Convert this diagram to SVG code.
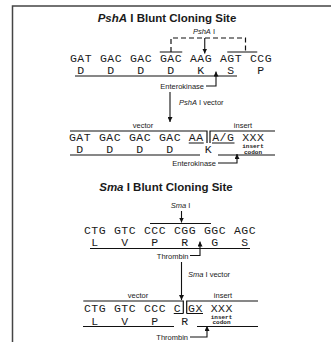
<svg xmlns="http://www.w3.org/2000/svg" width="331" height="342" viewBox="0 0 331 342">
<defs>
<style>
.title{font-family:"Liberation Sans",Arial,sans-serif;font-weight:bold;font-size:11.5px;text-anchor:middle;fill:#1a1a1a}
.seq{font-family:"Liberation Mono","Courier New",monospace;font-size:11.5px;letter-spacing:0.5px;text-anchor:middle;fill:#1a1a1a}
.lbl{font-family:"Liberation Sans",Arial,sans-serif;font-size:7.5px;fill:#1a1a1a}
.mid{text-anchor:middle}
.end{text-anchor:end}
.ins{font-family:"Liberation Mono","Courier New",monospace;font-size:6px;font-weight:bold;text-anchor:middle;fill:#1a1a1a}
.ln{stroke:#111;stroke-width:1.2;fill:none}
.dash{stroke:#111;stroke-width:1.2;fill:none;stroke-dasharray:5 3}
.arr{stroke:#111;stroke-width:1.1;fill:none;marker-end:url(#ah)}
</style>
<marker id="ah" viewBox="0 0 8 8" refX="8" refY="4" markerWidth="5" markerHeight="5" orient="auto" markerUnits="userSpaceOnUse">
<path d="M0,0 L8,4 L0,8 z" fill="#111"/>
</marker>
</defs>
<rect width="331" height="342" fill="#fff"/>
<g id="frame" stroke="#444" stroke-width="1.5" fill="none">
<path d="M12.5,342 V6 H331"/>
</g>

<g id="psha-title">
<text class="title" x="167" y="22"><tspan font-style="italic">PshA</tspan> I Blunt Cloning Site</text>
</g>

<g id="psha-site">
<text class="lbl mid" x="204" y="34" font-size="7"><tspan font-style="italic">PshA</tspan> I</text>
<path class="dash" d="M171,52 V38 H245.5 V52"/>
<path class="ln" d="M159.75,52 H182.25 M227.25,52 H257.25"/>
<text class="seq" y="62"><tspan x="81">GAT</tspan><tspan x="111">GAC</tspan><tspan x="141">GAC</tspan><tspan x="171">GAC</tspan><tspan x="201">AAG</tspan><tspan x="231">AGT</tspan><tspan x="261">CCG</tspan></text>
<text class="seq" y="74"><tspan x="81">D</tspan><tspan x="111">D</tspan><tspan x="141">D</tspan><tspan x="171">D</tspan><tspan x="201">K</tspan><tspan x="231">S</tspan><tspan x="261">P</tspan></text>
<path class="ln" d="M75,76 H237"/>
<text class="lbl end" x="204" y="88.5">Enterokinase</text>
</g>

<g id="psha-vector">
<text class="lbl mid" x="143" y="127.5">vector</text>
<text class="lbl mid" x="243" y="127.5">insert</text>
<path class="ln" d="M70,131 H207 V143 M210,143 V131 H275"/>
<text class="seq" y="140.5"><tspan x="80">GAT</tspan><tspan x="110">GAC</tspan><tspan x="140">GAC</tspan><tspan x="170">GAC</tspan><tspan x="196.25">AA</tspan><tspan x="223.25">A/G</tspan><tspan x="253.25">XXX</tspan></text>
<path class="ln" d="M188.75,143 H203.75 M212,143 H234.5"/>
<text class="seq" y="152.5"><tspan x="80">D</tspan><tspan x="110">D</tspan><tspan x="140">D</tspan><tspan x="170">D</tspan><tspan x="208.5">K</tspan></text>
<text class="ins" x="253" y="148">insert</text>
<text class="ins" x="253" y="153.5">codon</text>
<path class="ln" d="M70,155 H200 M218,155 H275"/>
<text class="lbl end" x="216" y="165.5">Enterokinase</text>
</g>

<g id="sma-title">
<text class="title" x="166" y="190.5"><tspan font-style="italic">Sma</tspan> I Blunt Cloning Site</text>
</g>

<g id="sma-site">
<text class="lbl mid" x="180.5" y="208" font-size="7"><tspan font-style="italic">Sma</tspan> I</text>
<path class="ln" d="M150,223.5 H211"/>
<text class="seq" y="234"><tspan x="95">CTG</tspan><tspan x="125">GTC</tspan><tspan x="155">CCC</tspan><tspan x="185">CGG</tspan><tspan x="215">GGC</tspan><tspan x="245">AGC</tspan></text>
<text class="seq" y="246"><tspan x="95">L</tspan><tspan x="125">V</tspan><tspan x="155">P</tspan><tspan x="185">R</tspan><tspan x="215">G</tspan><tspan x="245">S</tspan></text>
<path class="ln" d="M90,248.5 H250"/>
<text class="lbl end" x="188.5" y="258.5">Thrombin</text>
</g>

<g id="sma-vector">
<text class="lbl mid" x="138" y="298">vector</text>
<text class="lbl mid" x="223" y="298">insert</text>
<path class="ln" d="M83.3,301 H183.3 V313.5 M186.7,313.5 V301 H258"/>
<text class="seq" y="311.5"><tspan x="95">CTG</tspan><tspan x="125">GTC</tspan><tspan x="155">CCC</tspan><tspan x="177.5">C</tspan><tspan x="195.5">GX</tspan><tspan x="221.75">XXX</tspan></text>
<path class="ln" d="M173.75,313.5 H183.3 M186.7,313.5 H203"/>
<text class="seq" y="324.5"><tspan x="95">L</tspan><tspan x="125">V</tspan><tspan x="155">P</tspan><tspan x="185">R</tspan></text>
<text class="ins" x="221.5" y="318.5">insert</text>
<text class="ins" x="221.5" y="324">codon</text>
<path class="ln" d="M83,326.5 H174 M197,326.5 H258"/>
<text class="lbl end" x="188" y="339.5">Thrombin</text>
</g>

<g id="connectors">
<path class="arr" d="M204.75,38 V53.5"/>
<path class="arr" d="M206,86 H216 V71.5"/>
<path class="arr" d="M170,92 V122"/>
<text class="lbl" x="179" y="105"><tspan font-style="italic">PshA</tspan> I vector</text>
<path class="arr" d="M218,163 H237 V154"/>
<path class="arr" d="M181.5,211 V222.5"/>
<path class="arr" d="M190,255.5 H200 V241.5"/>
<path class="arr" d="M181.5,262 V300"/>
<text class="lbl" x="188" y="277"><tspan font-style="italic">Sma</tspan> I vector</text>
<path class="arr" d="M190,337 H207 V326"/>
</g>
</svg>
